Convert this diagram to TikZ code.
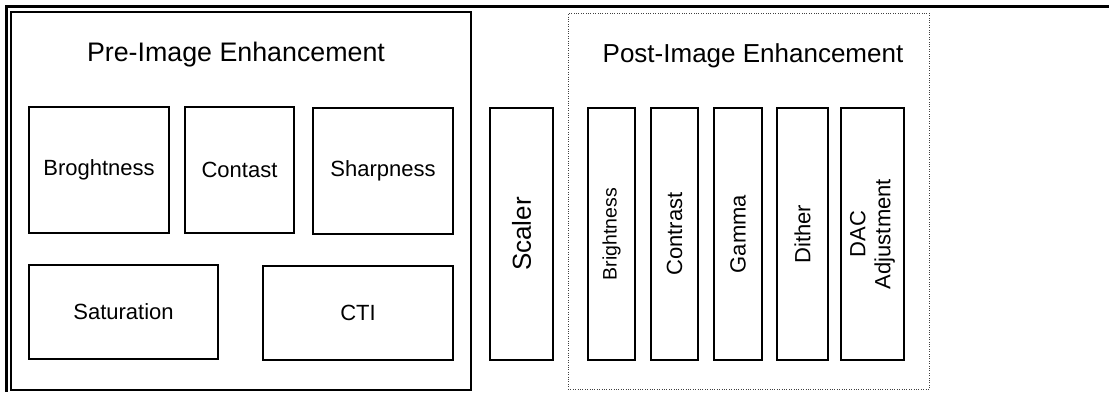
\documentclass[tikz,border=0pt]{standalone}
\usepackage{fontspec}
\setmainfont{Liberation Sans}
\usepackage{tikz}

\begin{document}
\begin{tikzpicture}[x=1pt, y=-1pt,
    stage/.style={draw, rectangle, line width=1.1pt, inner sep=0pt,
      font=\fontsize{22}{25}\selectfont},
    vstage/.style={stage, rotate=90, minimum width=252pt, align=center},
    heading/.style={anchor=base, inner sep=0pt, font=\fontsize{26}{30}\selectfont}]
    \useasboundingbox (0,0) rectangle (1109,392);
    \draw[line width=2.2pt] (1109,6.5) -- (6.5,6.5) -- (6.5,392);
    % pre-image block
    \node (pre) at (241,201) [draw, line width=1.1pt, minimum width=460pt, minimum height=378pt] {};
    \node (pretitle) at (236,61) [heading, font=\fontsize{26.8}{30}\selectfont] {Pre-Image Enhancement};
    \node (Pa) at (99,170) [stage, minimum width=140pt, minimum height=126pt] {Broghtness};
    \node (Pb) at (239.5,170) [stage, minimum width=109pt, minimum height=126pt] {Contast};
    \node (Pc) at (383,171) [stage, minimum width=140pt, minimum height=126pt] {Sharpness};
    \node (Pd) at (123.5,312) [stage, minimum width=189pt, minimum height=94pt] {Saturation};
    \node (Pe) at (358,313) [stage, minimum width=190pt, minimum height=94pt] {CTI};
    % scaler
    \node (scaler) at (521.5,234) [vstage, minimum height=63pt, font=\fontsize{26}{30}\selectfont] {Scaler};
    % post-image block
    \node (post) at (748.5,201) [draw, dotted, black!75, minimum width=361pt, minimum height=376pt] {};
    \node (posttitle) at (753,62) [heading] {Post-Image Enhancement};
    \node (Qa) at (611.5,234) [vstage, minimum height=47pt, font=\fontsize{19.5}{23}\selectfont] {Brightness};
    \node (Qb) at (674.5,234) [vstage, minimum height=47pt] {Contrast};
    \node (Qc) at (738,234) [vstage, minimum height=48pt] {Gamma};
    \node (Qd) at (802.5,234) [vstage, minimum height=51pt] {Dither};
    \node (Qe) at (872.5,234) [vstage, minimum height=63pt] {DAC\\Adjustment};
\end{tikzpicture}
\end{document}
